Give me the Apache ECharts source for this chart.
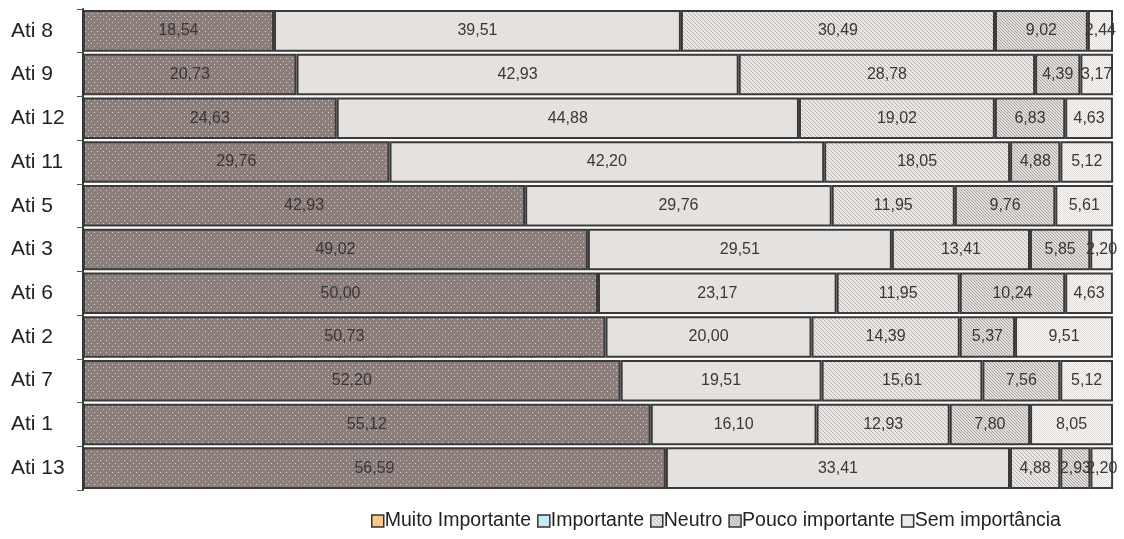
<!DOCTYPE html>
<html>
<head>
<meta charset="utf-8">
<script src="https://cdn.jsdelivr.net/npm/echarts@6/dist/echarts.min.js"></script>
<style>
  html, body { margin: 0; padding: 0; background: #fff; }
  #chart { width: 1124px; height: 539px; }
</style>
</head>
<body>
<div id="chart"></div>
<script>
// categories, top to bottom
var categories = ['Ati 8', 'Ati 9', 'Ati 12', 'Ati 11', 'Ati 5', 'Ati 3', 'Ati 6', 'Ati 2', 'Ati 7', 'Ati 1', 'Ati 13'];
var seriesNames = ['Muito Importante', 'Importante', 'Neutro', 'Pouco importante', 'Sem importância'];

var muitoImportante = [18.54, 20.73, 24.63, 29.76, 42.93, 49.02, 50.00, 50.73, 52.20, 55.12, 56.59];
var importante      = [39.51, 42.93, 44.88, 42.20, 29.76, 29.51, 23.17, 20.00, 19.51, 16.10, 33.41];
var neutro          = [30.49, 28.78, 19.02, 18.05, 11.95, 13.41, 11.95, 14.39, 15.61, 12.93, 4.88];
var poucoImportante = [9.02, 4.39, 6.83, 4.88, 9.76, 5.85, 10.24, 5.37, 7.56, 7.80, 2.93];
var semImportancia  = [2.44, 3.17, 4.63, 5.12, 5.61, 2.20, 4.63, 9.51, 5.12, 8.05, 2.20];

var values = [muitoImportante, importante, neutro, poucoImportante, semImportancia];

// little canvas tiles to imitate the Excel fill patterns
function tile(size, bg, draw) {
  var c = document.createElement('canvas');
  c.width = size; c.height = size;
  var ctx = c.getContext('2d');
  ctx.fillStyle = bg;
  ctx.fillRect(0, 0, size, size);
  draw(ctx, size);
  return { image: c, repeat: 'repeat' };
}
function dots(ctx) {
  ctx.fillStyle = '#ddd5d2';
  ctx.fillRect(1, 1, 1, 1);
  ctx.fillRect(4, 4, 1, 1);
}
function checker(col) {
  return function (ctx, s) {
    ctx.fillStyle = col;
    for (var y = 0; y < s; y++)
      for (var x = 0; x < s; x++)
        if ((x + y) % 2 === 0) ctx.fillRect(x, y, 1, 1);
  };
}
function diag(col, step) {
  return function (ctx, s) {
    ctx.fillStyle = col;
    for (var y = 0; y < s; y++)
      for (var x = 0; x < s; x++)
        if ((x - y + s * 4) % step === 0) ctx.fillRect(x, y, 1, 1);
  };
}

var fills = [
  tile(6, '#8c7e7b', dots),
  tile(4, '#e0dcd9', checker('#e9e6e4')),
  tile(8, '#ebe7e5', diag('#b9b4b1', 4)),
  tile(6, '#e2dedb', diag('#a9a4a1', 3)),
  tile(4, '#f7f6f5', checker('#e2dfdd'))
];
var legendColors = ['#f9c98c', '#c8e9f8', null, null, null];

var myChart = echarts.init(document.getElementById('chart'));

var series = seriesNames.map(function (name, i) {
  return {
    name: name,
    type: 'bar',
    stack: 'total',
    barCategoryGap: '5%',
    data: values[i],
    itemStyle: {
      color: fills[i],
      borderColor: '#3a3a3a',
      borderWidth: 2
    },
    label: {
      show: true,
      position: 'inside',
      color: '#383838',
      fontSize: 16,
      fontFamily: 'Liberation Sans',
      formatter: function (p) {
        return p.value.toFixed(2).replace('.', ',');
      }
    },
    emphasis: { disabled: true }
  };
});

myChart.setOption({
  animation: false,
  grid: { left: 83, right: 11, top: 9, bottom: 49 },
  legend: {
    bottom: 3,
    left: 366,
    itemWidth: 12,
    itemHeight: 12,
    itemGap: 6,
    textStyle: { fontSize: 19.5, color: '#222', fontFamily: 'Liberation Sans', padding: [0, 0, 0, -4] },
    data: seriesNames.map(function (n, i) {
      var it = { name: n, icon: 'rect', itemStyle: { borderColor: '#333', borderWidth: 1.5 } };
      if (legendColors[i]) it.itemStyle.color = legendColors[i];
      return it;
    })
  },
  xAxis: {
    type: 'value',
    min: 0,
    max: 100,
    show: false
  },
  yAxis: {
    type: 'category',
    inverse: true,
    data: categories,
    axisLine: { show: true, lineStyle: { color: '#333', width: 2 } },
    axisTick: { show: true, length: 6, lineStyle: { color: '#555' } },
    axisLabel: { fontSize: 21, color: '#222', margin: 72, align: 'left', fontFamily: 'Liberation Sans' }
  },
  series: series
});
</script>
</body>
</html>
